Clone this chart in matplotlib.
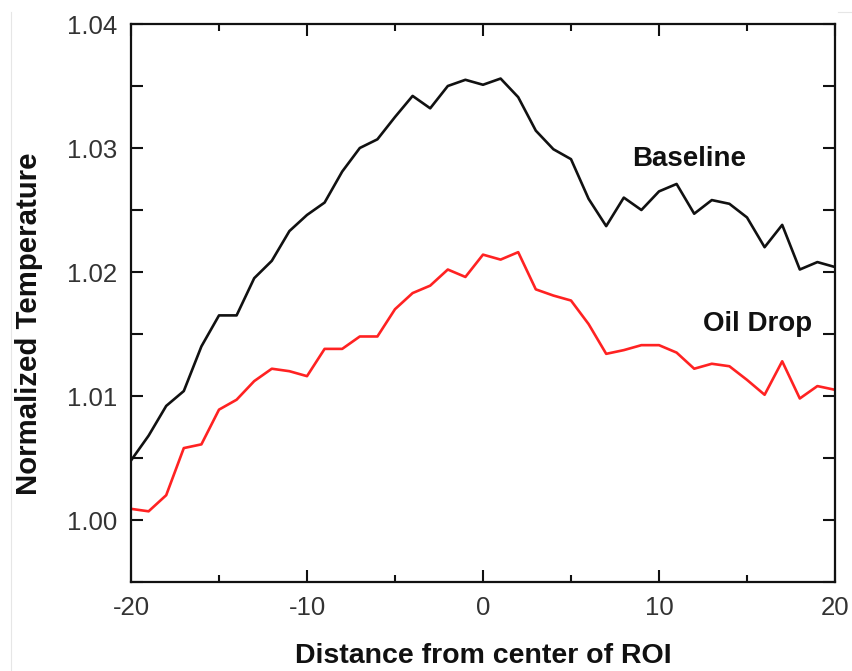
import matplotlib
matplotlib.use("Agg")
import matplotlib.pyplot as plt
from matplotlib.lines import Line2D
from matplotlib.ticker import MultipleLocator

plt.rcParams['font.family'] = ['Liberation Sans', 'DejaVu Sans']

distance = list(range(-20, 21))
baseline = [1.0048, 1.0068, 1.0092, 1.0104, 1.0140, 1.0165, 1.0165, 1.0195, 1.0209, 1.0233,
            1.0246, 1.0256, 1.0281, 1.0300, 1.0307, 1.0325, 1.0342, 1.0332, 1.0350, 1.0355,
            1.0351, 1.0356, 1.0341, 1.0314, 1.0299, 1.0291, 1.0259, 1.0237, 1.0260, 1.0250,
            1.0265, 1.0271, 1.0247, 1.0258, 1.0255, 1.0244, 1.0220, 1.0238, 1.0202, 1.0208,
            1.0204]
oil_drop = [1.0009, 1.0007, 1.0020, 1.0058, 1.0061, 1.0089, 1.0097, 1.0112, 1.0122, 1.0120,
            1.0116, 1.0138, 1.0138, 1.0148, 1.0148, 1.0170, 1.0183, 1.0189, 1.0202, 1.0196,
            1.0214, 1.0210, 1.0216, 1.0186, 1.0181, 1.0177, 1.0158, 1.0134, 1.0137, 1.0141,
            1.0141, 1.0135, 1.0122, 1.0126, 1.0124, 1.0113, 1.0101, 1.0128, 1.0098, 1.0108,
            1.0105]
xticks = [-20, -10, 0, 10, 20]
yticks = [1.00, 1.01, 1.02, 1.03, 1.04]
ytick_labels = ['1.00', '1.01', '1.02', '1.03', '1.04']

W, H = 852, 671
fig = plt.figure(figsize=(W / 100, H / 100), dpi=100)
ax = fig.add_axes([131 / W, (H - 582) / H, (835 - 131) / W, (582 - 24) / H])

ax.plot(distance, baseline, color='#111111', lw=1.9)
ax.plot(distance, oil_drop, color='#ff2222', lw=1.9)

ax.set_xlim(-20, 20)
ax.set_ylim(0.995, 1.04)
ax.set_xticks(xticks)
ax.set_xticklabels([str(t) for t in xticks])
ax.set_yticks(yticks)
ax.set_yticklabels(ytick_labels)
ax.xaxis.set_minor_locator(MultipleLocator(5))
ax.yaxis.set_minor_locator(MultipleLocator(0.005))

for s in ax.spines.values():
    s.set_linewidth(1.6)
    s.set_color('#111111')

ax.tick_params(which='both', direction='in', top=True, right=True, width=1.5, color='#111111')
ax.tick_params(which='major', length=8.5, pad=10, labelsize=18.5, labelcolor='#333333')
ax.tick_params(axis='x', which='minor', length=5)
ax.tick_params(axis='y', which='minor', length=8.5)

ax.text(8.45, 1.02855, 'Baseline', fontsize=20, fontweight='bold', ha='left', va='baseline', color='#111111')
ax.text(12.48, 1.01524, 'Oil Drop', fontsize=20, fontweight='bold', ha='left', va='baseline', color='#111111')

fig.text(483 / W, 1 - 656 / H, 'Distance from center of ROI', fontsize=20.5, fontweight='bold',
         ha='center', va='center', color='#111111')
fig.text(29 / W, 1 - 324 / H, 'Normalized Temperature', fontsize=21.2, fontweight='bold',
         ha='center', va='center', rotation=90, color='#111111')

# faint screenshot border lines
fig.add_artist(Line2D([11 / W, 11 / W], [0, 1 - 12 / H], transform=fig.transFigure, color='#e6e6e6', lw=0.8))
fig.add_artist(Line2D([838 / W, 1], [1 - 12 / H, 1 - 12 / H], transform=fig.transFigure, color='#e6e6e6', lw=0.8))

fig.savefig('out.png', dpi=100)
